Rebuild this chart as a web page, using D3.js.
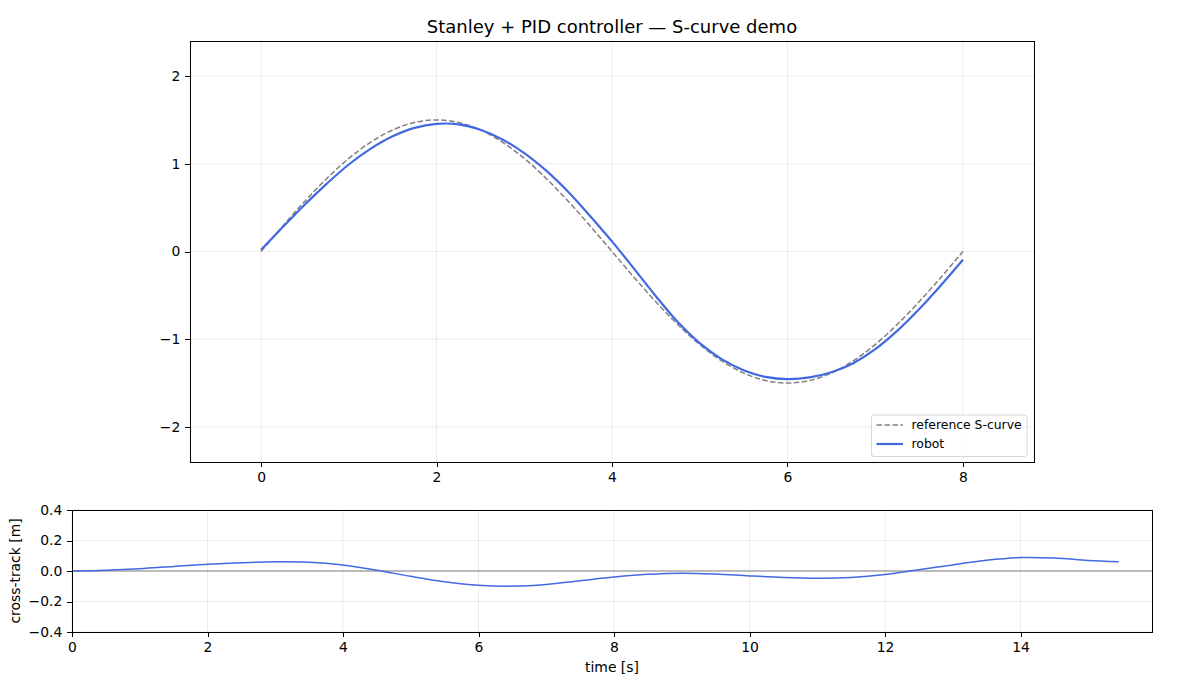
<!DOCTYPE html>
<html>
<head>
<meta charset="utf-8">
<script src="https://cdn.jsdelivr.net/npm/d3@7"></script>
<style>
  html, body { margin: 0; padding: 0; background: #fff; }
  svg { display: block; font-family: "DejaVu Sans", sans-serif; }
  .axis path, .axis line { stroke: #000; stroke-width: 1; shape-rendering: crispEdges; }
  .axis text { fill: #000; font-size: 13.9px; font-family: "DejaVu Sans", sans-serif; }
</style>
</head>
<body>
<svg id="chart" width="1200" height="680"></svg>
<script>
// ---- data ----
const refX = [0,0.25,0.5,0.75,1,1.25,1.5,1.75,2,2.25,2.5,2.75,3,3.25,3.5,3.75,4,4.25,4.5,4.75,5,5.25,5.5,5.75,6,6.25,6.5,6.75,7,7.25,7.5,7.75,8];
const refY = [0,0.293,0.574,0.833,1.061,1.247,1.386,1.471,1.5,1.471,1.386,1.247,1.061,0.833,0.574,0.293,0,-0.293,-0.574,-0.833,-1.061,-1.247,-1.386,-1.471,-1.5,-1.471,-1.386,-1.247,-1.061,-0.833,-0.574,-0.293,0];
const robotX = [0,0.25,0.5,0.75,1,1.25,1.5,1.75,2,2.25,2.5,2.75,3,3.25,3.5,3.75,4,4.25,4.5,4.75,5,5.25,5.5,5.75,6,6.25,6.5,6.75,7,7.25,7.5,7.75,8];
const robotY = [0.02,0.281,0.536,0.774,0.992,1.173,1.314,1.410,1.4555,1.450,1.3885,1.278,1.1216,0.9214,0.681,0.405,0.115,-0.195,-0.51,-0.805,-1.045,-1.2265,-1.3528,-1.4292,-1.455,-1.4361,-1.3763,-1.2731,-1.1139,-0.9048,-0.6576,-0.384,-0.094];
const timeS = [0,0.5,1,1.5,2,2.5,3,3.5,4,4.5,5,5.5,6,6.5,7,7.5,8,8.5,9,9.5,10,10.5,11,11.5,12,12.5,13,13.5,14,14.5,15,15.45];
const crossTrack = [0,0.005,0.015,0.03,0.044,0.054,0.06,0.057,0.039,0.005,-0.035,-0.07,-0.093,-0.099,-0.088,-0.064,-0.04,-0.022,-0.014,-0.02,-0.032,-0.042,-0.047,-0.042,-0.023,0.008,0.04,0.071,0.088,0.085,0.069,0.061];
const topXTicks = [0,2,4,6,8];
const topYTicks = [-2,-1,0,1,2];
const botXTicks = [0,2,4,6,8,10,12,14];
const botYTicks = [-0.4,-0.2,0,0.2,0.4];
const legendLabels = ["reference S-curve", "robot"];
const titleText = "Stanley + PID controller — S-curve demo";

const svg = d3.select("#chart");
const fmtMinus = s => String(s).replace("-", "\u2212");
const TICK = 4.86, PAD = 4.86;
const gridColor = "#b0b0b0";

// ---- top axes ----
const T = {left: 190, right: 1034, top: 41, bottom: 462};
const x1 = d3.scaleLinear().domain([-0.81, 8.81]).range([T.left, T.right]);
const y1 = d3.scaleLinear().domain([-2.4, 2.4]).range([T.bottom, T.top]);

const g1 = svg.append("g");
g1.append("g").selectAll("line").data(topXTicks).join("line")
  .attr("x1", d => x1(d)).attr("x2", d => x1(d)).attr("y1", T.top).attr("y2", T.bottom)
  .attr("stroke", gridColor).attr("stroke-opacity", 0.3).attr("stroke-width", 0.8);
g1.append("g").selectAll("line").data(topYTicks).join("line")
  .attr("y1", d => y1(d)).attr("y2", d => y1(d)).attr("x1", T.left).attr("x2", T.right)
  .attr("stroke", gridColor).attr("stroke-opacity", 0.3).attr("stroke-width", 0.8);

const line1 = d3.line().curve(d3.curveCatmullRom.alpha(0.5));
g1.append("path")
  .attr("d", line1(refX.map((d, i) => [x1(d), y1(refY[i])])))
  .attr("fill", "none").attr("stroke", "#808080").attr("stroke-width", 1.5)
  .attr("stroke-dasharray", "5.55,2.4");
g1.append("path")
  .attr("d", line1(robotX.map((d, i) => [x1(d), y1(robotY[i])])))
  .attr("fill", "none").attr("stroke", "#4169e1").attr("stroke-width", 2.2);

const ax1 = g1.append("g").attr("class", "axis").attr("transform", `translate(0,${T.bottom})`)
  .call(d3.axisBottom(x1).tickValues(topXTicks).tickSize(TICK).tickPadding(PAD).tickFormat(d => fmtMinus(d)));
const ay1 = g1.append("g").attr("class", "axis").attr("transform", `translate(${T.left},0)`)
  .call(d3.axisLeft(y1).tickValues(topYTicks).tickSize(TICK).tickPadding(PAD).tickFormat(d => fmtMinus(d)));
[ax1, ay1].forEach(a => a.select(".domain").remove());
g1.append("rect").attr("x", T.left + 0.5).attr("y", T.top + 0.5).attr("width", T.right - T.left).attr("height", T.bottom - T.top)
  .attr("fill", "none").attr("stroke", "#000").attr("stroke-width", 1);

svg.append("text").attr("x", (T.left + T.right) / 2).attr("y", 32.5).attr("text-anchor", "middle")
  .attr("font-size", 18).attr("fill", "#000").text(titleText);

// legend
const L = {x: 871.5, y: 415, w: 155.5, h: 41.5};
const lg = svg.append("g");
lg.append("rect").attr("x", L.x).attr("y", L.y).attr("width", L.w).attr("height", L.h)
  .attr("rx", 2.5).attr("fill", "#fff").attr("fill-opacity", 0.8).attr("stroke", "#cccccc").attr("stroke-width", 0.8);
const legRows = [
  {label: legendLabels[0], color: "#808080", dash: "5.55,2.4", w: 1.5, y: 425},
  {label: legendLabels[1], color: "#4169e1", dash: null, w: 2.2, y: 444}
];
legRows.forEach(r => {
  lg.append("line").attr("x1", 876.5).attr("x2", 903).attr("y1", r.y).attr("y2", r.y)
    .attr("stroke", r.color).attr("stroke-width", r.w).attr("stroke-dasharray", r.dash);
  lg.append("text").attr("x", 911.5).attr("y", r.y).attr("dy", "0.35em")
    .attr("font-size", 12.4).attr("fill", "#000").text(r.label);
});

// ---- bottom axes ----
const B = {left: 72, right: 1152, top: 510, bottom: 632};
const x2 = d3.scaleLinear().domain([0, 15.94]).range([B.left, B.right]);
const y2 = d3.scaleLinear().domain([-0.4, 0.4]).range([B.bottom, B.top]);
const g2 = svg.append("g");
g2.append("g").selectAll("line").data(botXTicks).join("line")
  .attr("x1", d => x2(d)).attr("x2", d => x2(d)).attr("y1", B.top).attr("y2", B.bottom)
  .attr("stroke", gridColor).attr("stroke-opacity", 0.3).attr("stroke-width", 0.8);
g2.append("g").selectAll("line").data(botYTicks).join("line")
  .attr("y1", d => y2(d)).attr("y2", d => y2(d)).attr("x1", B.left).attr("x2", B.right)
  .attr("stroke", gridColor).attr("stroke-opacity", 0.3).attr("stroke-width", 0.8);
g2.append("line").attr("x1", B.left).attr("x2", B.right).attr("y1", y2(0)).attr("y2", y2(0))
  .attr("stroke", "#808080").attr("stroke-width", 1);
g2.append("path")
  .attr("d", line1(timeS.map((d, i) => [x2(d), y2(crossTrack[i])])))
  .attr("fill", "none").attr("stroke", "#4169e1").attr("stroke-width", 1.5);
const ax2 = g2.append("g").attr("class", "axis").attr("transform", `translate(0,${B.bottom})`)
  .call(d3.axisBottom(x2).tickValues(botXTicks).tickSize(TICK).tickPadding(PAD).tickFormat(d => fmtMinus(d)));
const ay2 = g2.append("g").attr("class", "axis").attr("transform", `translate(${B.left},0)`)
  .call(d3.axisLeft(y2).tickValues(botYTicks).tickSize(TICK).tickPadding(PAD).tickFormat(d => fmtMinus(d3.format(".1f")(d))));
[ax2, ay2].forEach(a => a.select(".domain").remove());
g2.append("rect").attr("x", B.left + 0.5).attr("y", B.top + 0.5).attr("width", B.right - B.left).attr("height", B.bottom - B.top)
  .attr("fill", "none").attr("stroke", "#000").attr("stroke-width", 1);
svg.append("text").attr("x", (B.left + B.right) / 2).attr("y", 672).attr("text-anchor", "middle")
  .attr("font-size", 13.9).attr("fill", "#000").text("time [s]");
svg.append("text").attr("transform", `translate(20,${(B.top + B.bottom) / 2}) rotate(-90)`)
  .attr("text-anchor", "middle").attr("font-size", 13.9).attr("fill", "#000").text("cross-track [m]");
</script>
</body>
</html>
